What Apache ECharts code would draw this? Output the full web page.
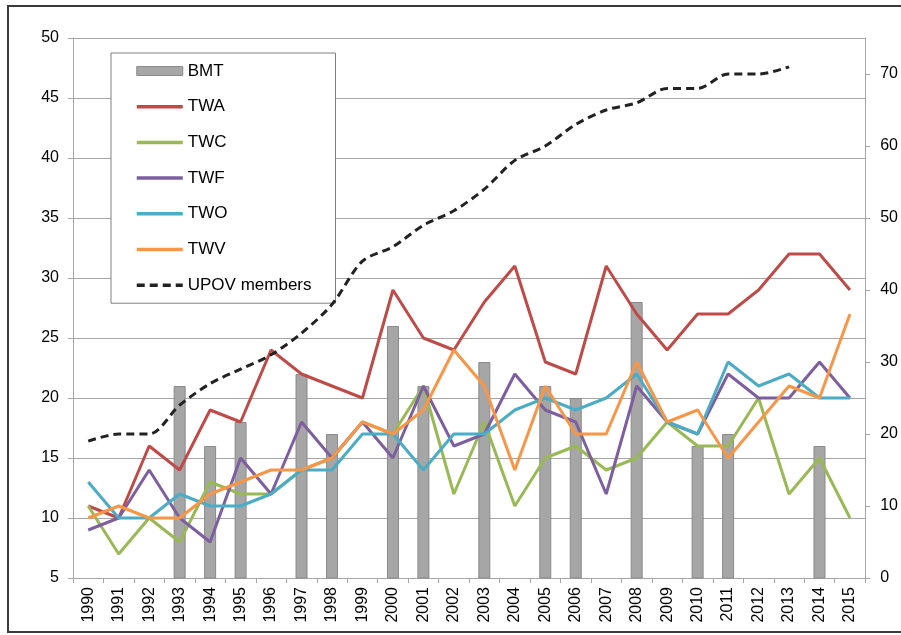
<!DOCTYPE html>
<html>
<head>
<meta charset="utf-8">
<script src="https://cdn.jsdelivr.net/npm/echarts@6/dist/echarts.min.js"></script>
<style>
  html, body { margin: 0; padding: 0; background: #fff; }
  #chart { width: 901px; height: 635px; }
</style>
</head>
<body>
<div id="chart"></div>
<script>
var years = ['1990','1991','1992','1993','1994','1995','1996','1997','1998','1999','2000','2001','2002',
             '2003','2004','2005','2006','2007','2008','2009','2010','2011','2012','2013','2014','2015'];

var bmt  = [0, 0, 0, 21, 16, 18, 0, 22, 17, 0, 26, 21, 0, 23, 0, 21, 20, 0, 28, 0, 16, 17, 0, 0, 16, 0];
var twa  = [11, 10, 16, 14, 19, 18, 24, 22, 21, 20, 29, 25, 24, 28, 31, 23, 22, 31, 27, 24, 27, 27, 29, 32, 32, 29];
var twc  = [11, 7, 10, 8, 13, 12, 12, 14, 15, 18, 17, 21, 12, 18, 11, 15, 16, 14, 15, 18, 16, 16, 20, 12, 15, 10];
var twf  = [9, 10, 14, 10, 8, 15, 12, 18, 15, 18, 15, 21, 16, 17, 22, 19, 18, 12, 21, 18, 17, 22, 20, 20, 23, 20];
var two  = [13, 10, 10, 12, 11, 11, 12, 14, 14, 17, 17, 14, 17, 17, 19, 20, 19, 20, 22, 18, 17, 23, 21, 22, 20, 20];
var twv  = [10, 11, 10, 10, 12, 13, 14, 14, 15, 18, 17, 19, 24, 21, 14, 21, 17, 17, 23, 18, 19, 15, 18, 21, 20, 27];
var upov = [19, 20, 20, 24, 27, 29, 31, 34, 38, 44, 46, 49, 51, 54, 58, 60, 63, 65, 66, 68, 68, 70, 70, 71, null, null];

var rightTicks = [0, 10, 20, 30, 40, 50, 60, 70];

var font = '"Liberation Sans", Arial, sans-serif';
var gridGrey = '#a6a6a6';

function lineSeries(name, data, color) {
    return {
        name: name,
        type: 'line',
        yAxisIndex: 0,
        data: data,
        symbol: 'none',
        lineStyle: { color: color, width: 3 },
        itemStyle: { color: color },
        z: 3
    };
}

var option = {
    animation: false,
    backgroundColor: '#fff',
    textStyle: { fontFamily: font },
    graphic: [{
        type: 'rect',
        shape: { x: 8, y: 6, width: 910, height: 626 },
        style: { fill: 'none', stroke: '#3a3a3a', lineWidth: 2 },
        silent: true,
        z: -10
    }],
    grid: { left: 73, right: 35, top: 38, bottom: 57 },
    legend: {
        orient: 'vertical',
        left: 111,
        top: 53,
        padding: [9.5, 24, 9.5, 24],
        itemWidth: 46,
        itemHeight: 9,
        itemGap: 18.7,
        backgroundColor: '#fff',
        borderColor: '#808080',
        borderWidth: 1,
        itemStyle: { opacity: 0 },
        lineStyle: { width: 3.5 },
        textStyle: { fontFamily: font, fontSize: 17, color: '#000' },
        data: [
            { name: 'BMT', icon: 'rect', itemStyle: { color: '#a6a6a6', borderColor: '#8a8a8a', borderWidth: 1, opacity: 1 } },
            'TWA', 'TWC', 'TWF', 'TWO', 'TWV', 'UPOV members'
        ]
    },
    xAxis: {
        type: 'category',
        data: years,
        boundaryGap: true,
        axisLine: { lineStyle: { color: gridGrey, width: 1 } },
        axisTick: { show: true, length: 5, lineStyle: { color: gridGrey } },
        axisLabel: { rotate: 90, margin: 9, fontSize: 16, color: '#000', fontFamily: font, interval: 0 }
    },
    yAxis: [{
        type: 'value',
        min: 5,
        max: 50,
        interval: 5,
        axisLine: { show: true, lineStyle: { color: gridGrey } },
        axisTick: { show: true, length: 5, lineStyle: { color: gridGrey } },
        splitLine: { show: true, lineStyle: { color: gridGrey, width: 1 } },
        axisLabel: { fontSize: 16, color: '#000', margin: 14, fontFamily: font }
    }, {
        type: 'value',
        min: 0,
        max: 75,
        interval: 10,
        position: 'right',
        axisLine: { show: true, lineStyle: { color: gridGrey } },
        axisTick: { show: true, length: 5, lineStyle: { color: gridGrey }, customValues: rightTicks },
        splitLine: { show: false },
        axisLabel: { fontSize: 16, color: '#000', margin: 15, fontFamily: font, customValues: rightTicks }
    }],
    series: [{
        name: 'BMT',
        type: 'bar',
        yAxisIndex: 0,
        data: bmt,
        barWidth: 12,
        itemStyle: { color: '#a6a6a6', borderColor: '#8a8a8a', borderWidth: 1 },
        z: 2
    },
    lineSeries('TWA', twa, '#be4b48'),
    lineSeries('TWC', twc, '#98b954'),
    lineSeries('TWF', twf, '#7d5fa0'),
    lineSeries('TWO', two, '#4aacc5'),
    lineSeries('TWV', twv, '#f79646'),
    {
        name: 'UPOV members',
        type: 'line',
        yAxisIndex: 1,
        data: upov,
        symbol: 'none',
        smooth: 0.3,
        lineStyle: { color: '#222', width: 3, type: [8, 5] },
        itemStyle: { color: '#222' },
        z: 4
    }]
};

window.addEventListener('load', function () {
    var chart = echarts.init(document.getElementById('chart'));
    chart.setOption(option);
});
</script>
</body>
</html>
